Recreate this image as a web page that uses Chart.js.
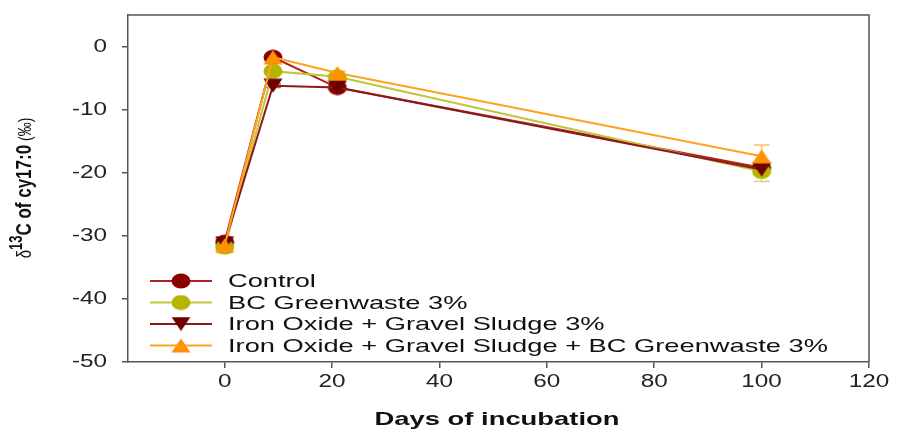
<!DOCTYPE html>
<html>
<head>
<meta charset="utf-8">
<script src="https://cdn.jsdelivr.net/npm/chart.js@4.4.1/dist/chart.umd.min.js"></script>
<style>
  html, body { margin: 0; padding: 0; background: #fff; }
  #wrap { width: 903px; height: 439px; }
</style>
</head>
<body>
<div id="wrap"><canvas id="chart" width="903" height="439"></canvas></div>
<script>
// data
const days = [0, 9, 21, 100];
const control = [-31.0, -1.7, -6.5, -19.2];
const bcGreenwaste = [-31.8, -3.9, -4.8, -19.8];
const ironGravel = [-31.2, -6.2, -6.5, -19.5];
const ironGravelBc = [-31.5, -1.7, -4.2, -17.4];

const controlErr = [0.5, 0.3, 0.3, 0.5];
const bcGreenwasteErr = [0.9, 0.3, 0.3, 1.6];
const ironGravelErr = [0.5, 0.3, 0.3, 0.5];
const ironGravelBcErr = [0.5, 0.3, 0.3, 1.8];

const seriesLabels = [
    'Control',
    'BC Greenwaste 3%',
    'Iron Oxide + Gravel Sludge 3%',
    'Iron Oxide + Gravel Sludge + BC Greenwaste 3%'
];

const xTicks = [0, 20, 40, 60, 80, 100, 120];
const yTicks = [-50, -40, -30, -20, -10, 0];

const FONT = '"Liberation Sans", Arial, sans-serif';
const AXIS = '#555';
const STRETCH = 1.35; // the source image is stretched sideways

// little canvases used as point styles (markers are wider than tall)
function makeMarker(shape, color, w, h) {
    const c = document.createElement('canvas');
    c.width = w;
    c.height = h;
    const g = c.getContext('2d');
    g.fillStyle = color;
    g.beginPath();
    if (shape === 'circle') {
        g.ellipse(w / 2, h / 2, w / 2 - 0.5, h / 2 - 0.5, 0, 0, Math.PI * 2);
    } else if (shape === 'up') {
        g.moveTo(w / 2, 0.5);
        g.lineTo(w - 0.5, h - 0.5);
        g.lineTo(0.5, h - 0.5);
    } else {
        g.moveTo(0.5, 0.5);
        g.lineTo(w - 0.5, 0.5);
        g.lineTo(w / 2, h - 0.5);
    }
    g.closePath();
    g.fill();
    return c;
}

const lineColors = ['#B22222', '#C4C43A', '#8B1A1A', '#FFA21F'];
const markers = [
    makeMarker('circle', '#8B0000', 20, 16),
    makeMarker('circle', '#B5B500', 20, 16),
    makeMarker('down', '#6E0000', 20, 15),
    makeMarker('up', '#FF9200', 20, 15)
];
const values = [control, bcGreenwaste, ironGravel, ironGravelBc];
const errors = [controlErr, bcGreenwasteErr, ironGravelErr, ironGravelBcErr];

const datasets = values.map((vals, i) => ({
    label: seriesLabels[i],
    data: days.map((d, j) => ({ x: d, y: vals[j] })),
    borderColor: lineColors[i],
    borderWidth: 2,
    pointStyle: markers[i],
    pointRadius: 8,
    pointHoverRadius: 8,
    tension: 0,
    order: 4 - i,
    errors: errors[i]
}));

function stretchedText(ctx, text, x, y, sx, align) {
    ctx.save();
    ctx.translate(x, y);
    ctx.scale(sx, 1);
    ctx.textAlign = align;
    ctx.fillText(text, 0, 0);
    ctx.restore();
}

const errorBars = {
    id: 'errorBars',
    beforeDatasetsDraw(chart) {
        const ctx = chart.ctx;
        const xs = chart.scales.x, ys = chart.scales.y;
        chart.data.datasets.forEach(ds => {
            ctx.save();
            ctx.strokeStyle = ds.borderColor;
            ctx.globalAlpha = 0.7;
            ctx.lineWidth = 1.5;
            ds.data.forEach((p, j) => {
                const e = ds.errors[j];
                const px = xs.getPixelForValue(p.x);
                const top = ys.getPixelForValue(p.y + e);
                const bot = ys.getPixelForValue(p.y - e);
                ctx.beginPath();
                ctx.moveTo(px, top); ctx.lineTo(px, bot);
                ctx.moveTo(px - 8, top); ctx.lineTo(px + 8, top);
                ctx.moveTo(px - 8, bot); ctx.lineTo(px + 8, bot);
                ctx.stroke();
            });
            ctx.restore();
        });
    }
};

const decorations = {
    id: 'decorations',
    afterDraw(chart) {
        const ctx = chart.ctx;
        const area = chart.chartArea;
        const xs = chart.scales.x, ys = chart.scales.y;

        // top and right of the frame
        ctx.save();
        ctx.strokeStyle = AXIS;
        ctx.lineWidth = 1.5;
        ctx.beginPath();
        ctx.moveTo(area.left, area.top);
        ctx.lineTo(area.right, area.top);
        ctx.lineTo(area.right, area.bottom);
        ctx.stroke();

        // tick labels
        ctx.fillStyle = '#222';
        ctx.font = '18px ' + FONT;
        ctx.textBaseline = 'middle';
        xTicks.forEach(v => stretchedText(ctx, String(v), xs.getPixelForValue(v), 382, STRETCH, 'center'));
        yTicks.forEach(v => stretchedText(ctx, String(v), 107, ys.getPixelForValue(v), STRETCH, 'right'));

        // x title
        ctx.fillStyle = '#111';
        ctx.font = 'bold 19px ' + FONT;
        const xTitle = 'Days of incubation';
        const sxT = 245 / ctx.measureText(xTitle).width;
        stretchedText(ctx, xTitle, 497, 420, sxT, 'center');

        // y title: δ13C of cy17:0 (‰), rotated
        const parts = [
            { t: '\u03B4', f: '15px ' + FONT, dy: 0 },
            { t: '13', f: 'bold 13px ' + FONT, dy: -7 },
            { t: 'C of cy17:0', f: 'bold 17px ' + FONT, dy: 0 },
            { t: ' (\u2030)', f: '14px ' + FONT, dy: 0 }
        ];
        let total = 0;
        parts.forEach(p => { ctx.font = p.f; p.w = ctx.measureText(p.t).width; total += p.w; });
        ctx.save();
        ctx.translate(31, 188 + total / 2);
        ctx.scale(1.35, 1);
        ctx.rotate(-Math.PI / 2);
        ctx.textAlign = 'left';
        ctx.textBaseline = 'alphabetic';
        let pos = 0;
        parts.forEach(p => {
            ctx.font = p.f;
            ctx.fillText(p.t, pos, p.dy);
            pos += p.w;
        });
        ctx.restore();

        // legend
        ctx.font = '19px ' + FONT;
        ctx.textBaseline = 'middle';
        ctx.fillStyle = '#111';
        const longest = Math.max(...seriesLabels.map(s => ctx.measureText(s).width));
        const sxL = 600 / longest;
        chart.data.datasets.forEach((ds, i) => {
            const y = 281 + i * 21.5;
            ctx.strokeStyle = ds.borderColor;
            ctx.lineWidth = 2;
            ctx.beginPath();
            ctx.moveTo(150, y);
            ctx.lineTo(212, y);
            ctx.stroke();
            const m = ds.pointStyle;
            ctx.drawImage(m, 181 - m.width / 2, y - m.height / 2);
            stretchedText(ctx, ds.label, 228, y + 1, sxL, 'left');
        });
        ctx.restore();
    }
};

new Chart(document.getElementById('chart'), {
    type: 'line',
    data: { datasets: datasets },
    options: {
        responsive: false,
        animation: false,
        events: [],
        layout: { padding: { top: 15, right: 34, left: 0, bottom: 0 } },
        plugins: { legend: { display: false }, tooltip: { enabled: false } },
        scales: {
            x: {
                type: 'linear',
                min: -18,
                max: 120,
                afterBuildTicks: s => { s.ticks = xTicks.map(v => ({ value: v })); },
                afterFit: s => { s.height = 77; },
                ticks: { color: 'rgba(0,0,0,0)', font: { size: 18 } },
                grid: { drawOnChartArea: false, drawTicks: true, tickLength: 6, color: AXIS, lineWidth: 1.5 },
                border: { display: true, color: AXIS, width: 1.5 }
            },
            y: {
                type: 'linear',
                min: -50,
                max: 5,
                afterBuildTicks: s => { s.ticks = yTicks.map(v => ({ value: v })); },
                afterFit: s => { s.width = 128; },
                ticks: { color: 'rgba(0,0,0,0)', font: { size: 18 } },
                grid: { drawOnChartArea: false, drawTicks: true, tickLength: 6, color: AXIS, lineWidth: 1.5 },
                border: { display: true, color: AXIS, width: 1.5 }
            }
        }
    },
    plugins: [errorBars, decorations]
});
</script>
</body>
</html>
